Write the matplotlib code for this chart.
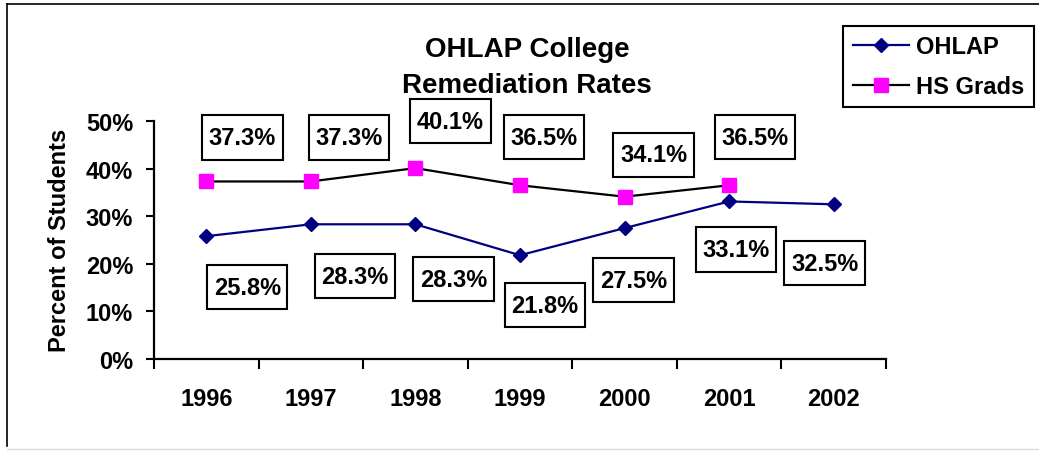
import numpy as np
import matplotlib.pyplot as plt
from matplotlib.lines import Line2D
from matplotlib.path import Path

plt.rcParams['font.family'] = ['Liberation Sans', 'DejaVu Sans']
plt.rcParams['font.weight'] = 'bold'

years = ['1996', '1997', '1998', '1999', '2000', '2001', '2002']
ohlap = [25.8, 28.3, 28.3, 21.8, 27.5, 33.1, 32.5]
hs_grads = [37.3, 37.3, 40.1, 36.5, 34.1, 36.5]

# label box offsets from the point, in pixels (x right, y down)
ohlap_off = [(41, 51), (44, 52), (38, 55), (25, 50), (9, 52), (7, 48), (-9, 59)]
hs_off = [(36, -44), (38, -44), (35, -47), (24, -48), (29, -42), (26, -48)]


def tall_box(x0, y0, width, height, mutation_size):
    px = 0.28 * mutation_size
    py = 0.45 * mutation_size
    x1, y1 = x0 + width + px, y0 + height + py
    x0, y0 = x0 - px, y0 - py
    return Path([(x0, y0), (x1, y0), (x1, y1), (x0, y1), (x0, y0)], closed=True)


fig = plt.figure(figsize=(10.39, 4.52), dpi=100)
ax = fig.add_axes([154 / 1039, 1 - 360 / 452, 732 / 1039, 238 / 452])

x = np.arange(len(years))
ax.plot(x, ohlap, color='#000080', lw=1.6, marker='D', ms=7.5,
        mfc='#000080', mec='#000080', label='OHLAP')
ax.plot(x[:len(hs_grads)], hs_grads, color='black', lw=1.6, marker='s', ms=10.5,
        mfc='#FF00FF', mec='#FF00FF', label='HS Grads')

box = dict(boxstyle=tall_box, fc='white', ec='black', lw=1.5)
for i, v in enumerate(ohlap):
    dx, dy = ohlap_off[i]
    ax.annotate(f'{v:.1f}%', (i, v), xytext=(dx * 0.72, -dy * 0.72),
                textcoords='offset points', ha='center', va='center',
                fontsize=17, fontweight='bold', bbox=box)
for i, v in enumerate(hs_grads):
    dx, dy = hs_off[i]
    ax.annotate(f'{v:.1f}%', (i, v), xytext=(dx * 0.72, -dy * 0.72),
                textcoords='offset points', ha='center', va='center',
                fontsize=17, fontweight='bold', bbox=box)

ax.set_xlim(-0.5, len(years) - 0.5)
ax.set_ylim(0, 50)
ax.set_yticks(np.arange(0, 51, 10))
ax.set_yticklabels([f'{t}%' for t in range(0, 51, 10)])
ax.set_xticks(x)
ax.set_xticklabels(years)
ax.set_xticks(np.arange(-0.5, len(years), 1), minor=True)
ax.tick_params(axis='x', which='major', length=0, pad=20, labelsize=17)
ax.tick_params(axis='x', which='minor', length=7, width=1.5, direction='out')
ax.tick_params(axis='y', length=6, width=1.5, pad=9, labelsize=17)
for s in ['top', 'right']:
    ax.spines[s].set_visible(False)
for s in ['left', 'bottom']:
    ax.spines[s].set_linewidth(1.6)

fig.text(59 / 1039, 1 - 240 / 452, 'Percent of Students', rotation=90,
         ha='center', va='center', fontsize=17, fontweight='bold')
fig.text(527 / 1039, 1 - 50 / 452, 'OHLAP College', ha='center', va='center',
         fontsize=20, fontweight='bold')
fig.text(527 / 1039, 1 - 86 / 452, 'Remediation Rates', ha='center', va='center',
         fontsize=20, fontweight='bold')

leg = ax.legend(loc='upper right', bbox_to_anchor=(1034 / 1039, 1 - 27 / 452),
                bbox_transform=fig.transFigure, borderaxespad=0, fancybox=False,
                edgecolor='black', framealpha=1, prop={'size': 17, 'weight': 'bold'},
                handlelength=2.4, handletextpad=0.3, labelspacing=0.7,
                borderpad=0.4)
leg.get_frame().set_linewidth(1.5)

# outer chart border
fig.add_artist(Line2D([7 / 1039, 7 / 1039], [1 - 447 / 452, 1 - 5 / 452],
                      transform=fig.transFigure, color='black', lw=1.2))
fig.add_artist(Line2D([7 / 1039, 1], [1 - 5 / 452, 1 - 5 / 452],
                      transform=fig.transFigure, color='black', lw=1.2))
fig.add_artist(Line2D([7 / 1039, 1], [1 - 450 / 452, 1 - 450 / 452],
                      transform=fig.transFigure, color='#dddddd', lw=1))

fig.savefig('out.png', dpi=100)
